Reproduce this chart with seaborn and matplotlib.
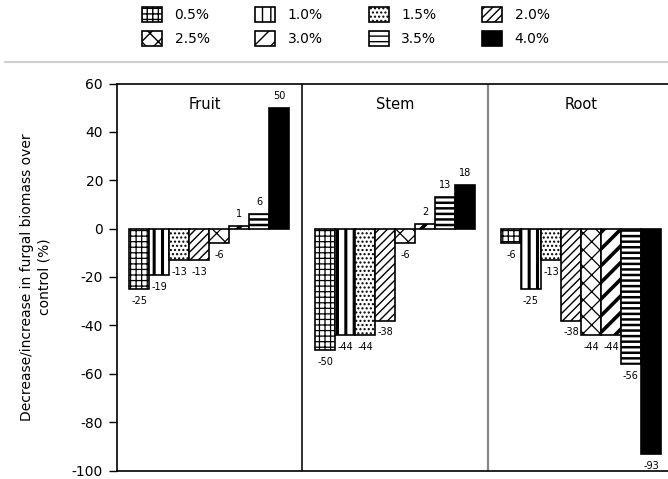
import numpy as np
import pandas as pd
import matplotlib
matplotlib.use("Agg")
import matplotlib.pyplot as plt
from matplotlib.patches import Patch
from matplotlib.lines import Line2D
import seaborn as sns

# ---- data ----
tissues = ["Fruit", "Stem", "Root"]
concentrations = ["0.5%", "1.0%", "1.5%", "2.0%", "2.5%", "3.0%", "3.5%", "4.0%"]
fruit = [-25, -19, -13, -13, -6, 1, 6, 50]
stem = [-50, -44, -44, -38, -6, 2, 13, 18]
root = [-6, -25, -13, -38, -44, -44, -56, -93]
y_ticks = [-100, -80, -60, -40, -20, 0, 20, 40, 60]
y_label = "Decrease/increase in furgal biomass over\ncontrol (%)"

# ---- styling ----
hatches = ["+++", "||", "....", "////", "xx", "//", "---", ""]
hatch_lw = [0.9, 2.2, 1.0, 1.0, 0.9, 2.6, 1.8, 1.0]
colors = ["white"] * 7 + ["black"]

sns.set_style("ticks")
plt.rcParams["font.family"] = ["DejaVu Sans"]
plt.rcParams["hatch.color"] = "black"
plt.rcParams["axes.unicode_minus"] = False
for k in ["text.color", "axes.labelcolor", "xtick.color", "ytick.color"]:
    plt.rcParams[k] = "black"

df = pd.DataFrame({
    "Tissue": np.repeat(tissues, len(concentrations)),
    "Concentration": concentrations * len(tissues),
    "Change": fruit + stem + root,
})

W, H = 668, 479
fig = plt.figure(figsize=(W / 100, H / 100), dpi=100)
ax = fig.add_axes([117 / W, 8.5 / H, (W - 117) / W, 387 / H])

sns.barplot(data=df, x="Tissue", y="Change", hue="Concentration",
            order=tissues, hue_order=concentrations, palette=colors,
            saturation=1, edgecolor="black", linewidth=1.2, width=0.86,
            legend=False, ax=ax)

for i, cont in enumerate(ax.containers):
    for bar in cont:
        bar.set_hatch(hatches[i])
        if hasattr(bar, "set_hatch_linewidth"):
            bar.set_hatch_linewidth(hatch_lw[i])
    vals = [int(v) for v in cont.datavalues]
    ax.bar_label(cont, labels=[str(v) for v in vals], padding=5, fontsize=7,
                 color="black")

ax.set_ylim(-100, 60)
ax.set_xlim(-0.495, 2.468)
ax.set_yticks(y_ticks)
ax.set_xticks([])
ax.set_xlabel("")
ax.set_ylabel(y_label, fontsize=10, linespacing=1.35)
ax.yaxis.set_label_coords(-0.118, 0.5)
ax.tick_params(axis="y", labelsize=10, length=6, width=1, pad=4, direction="out",
               colors="black")

for s in ["left", "top", "bottom"]:
    ax.spines[s].set_visible(True)
    ax.spines[s].set_linewidth(1.2)
    ax.spines[s].set_color("black")
ax.spines["right"].set_visible(False)

ax.axvline(0.5, color="#222222", lw=1.3)
ax.axvline(1.5, color="#888888", lw=1.6)

for i, t in enumerate(tissues):
    ax.text(i - 0.02 if i == 0 else i, 0.946, t, transform=ax.get_xaxis_transform(),
            ha="center", va="center", fontsize=10.5)

# ---- legend (column-major order) ----
handles = []
for i, c in enumerate(concentrations):
    p = Patch(facecolor=colors[i], edgecolor="black", hatch=hatches[i], linewidth=1.2, label=c)
    if hasattr(p, "set_hatch_linewidth"):
        p.set_hatch_linewidth(hatch_lw[i])
    handles.append(p)
order = [0, 4, 1, 5, 2, 6, 3, 7]
leg = fig.legend([handles[k] for k in order], [concentrations[k] for k in order],
                 ncol=4, loc="upper left", bbox_to_anchor=(142 / W, 1 - 7 / H),
                 frameon=False, fontsize=10, handlelength=1.44, handleheight=1.3,
                 handletextpad=0.9, columnspacing=3.3, labelspacing=0.62,
                 borderpad=0, borderaxespad=0)

fig.add_artist(Line2D([5 / W, 1], [1 - 62 / H, 1 - 62 / H], color="#d0d0d0",
                      lw=1.5, transform=fig.transFigure))

fig.savefig("out.png", dpi=100)
